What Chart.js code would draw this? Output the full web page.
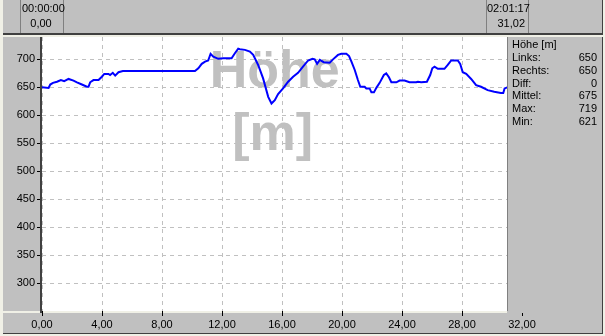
<!DOCTYPE html>
<html><head><meta charset="utf-8">
<script src="https://cdn.jsdelivr.net/npm/chart.js@4/dist/chart.umd.min.js"></script>
<style>html,body{margin:0;padding:0;background:#f0f0e6;}canvas{display:block}</style>
</head><body>
<canvas id="c" width="605" height="336"></canvas>
<script>
const distanceKm = [0,0.44,0.55,0.73,1.0,1.26,1.48,1.77,2.10,2.33,2.66,2.99,3.10,3.21,3.43,3.77,3.99,4.15,4.43,4.54,4.72,4.88,5.10,5.39,10.20,10.42,10.65,10.87,11.08,11.24,11.42,11.75,12.08,12.64,12.86,13.08,13.19,13.53,13.86,14.08,14.41,14.74,15.08,15.30,15.52,15.74,16.07,16.41,16.74,17.07,17.40,17.74,18.03,18.18,18.34,18.52,18.78,19.18,19.40,19.73,19.96,20.29,20.47,20.63,20.85,21.06,21.22,21.51,21.62,21.84,21.96,22.13,22.29,22.51,22.79,22.95,23.13,23.29,23.62,23.84,24.17,24.50,24.95,25.06,25.28,25.66,25.88,26.02,26.17,26.39,26.83,27.05,27.28,27.72,27.88,28.05,28.28,28.61,28.94,29.27,29.71,30.15,30.59,30.75,30.84,31.02];
const elevationM = [650,649,655,658,660,663,661,665,662,659,655,651,651,659,663,663,669,674,674,672,676,671,677,679,679,684,692,696,698,710,705,701,702,702,711,719,718,717,714,708,690,666,633,621,627,638,648,660,669,676,687,698,701,700,692,699,695,694,700,708,710,710,706,696,681,663,651,651,648,648,641,641,649,658,672,675,668,659,659,662,662,659,659,660,659,660,672,684,687,683,683,690,698,698,692,677,674,665,654,651,645,642,640,640,648,650];
const xTickValues = [0,4,8,12,16,20,24,28,32];
const yTickValues = [300,350,400,450,500,550,600,650,700];
const statTitle = 'Höhe [m]';
const statLabels = ['Links:','Rechts:','Diff:','Mittel:','Max:','Min:'];
const statValues = ['650','650','0','675','719','621'];
const startTime = '00:00:00', startDist = '0,00';
const endTime = '02:01:17', endDist = '31,02';
const endKm = 31.02;
const watermark = ['Höhe','[m]'];

const GRAY = '#c0c0c0', DARK = '#404040', MID = '#808080', FONT = 'Liberation Sans, Arial, sans-serif';

const decor = {
  id: 'decor',
  beforeDraw(chart) {
    const ctx = chart.ctx, a = chart.chartArea;
    ctx.save();
    ctx.fillStyle = '#f0f0e6'; ctx.fillRect(0, 0, 605, 336);
    // top bar
    ctx.fillStyle = GRAY; ctx.fillRect(3, 0, 600, 35);
    // left panel
    ctx.fillRect(3, a.top, a.left - 3, a.bottom - a.top);
    // bottom bar
    ctx.fillRect(3, a.bottom + 2, 600, 334 - a.bottom - 2);
    // plot area
    ctx.fillStyle = '#ffffff'; ctx.fillRect(a.left, a.top, a.right - a.left, a.bottom - a.top);
    ctx.restore();
  },
  beforeDatasetsDraw(chart) {
    const ctx = chart.ctx, a = chart.chartArea;
    const xEnd = chart.scales.x.getPixelForValue(endKm);
    const cx = (a.left + xEnd) / 2;
    ctx.save();
    ctx.fillStyle = GRAY;
    ctx.font = 'bold 52px ' + FONT;
    ctx.textAlign = 'center'; ctx.textBaseline = 'alphabetic';
    ctx.fillText(watermark[0], cx, 87);
    ctx.fillText(watermark[1], cx - 2, 150);
    ctx.restore();
  },
  afterDraw(chart) {
    const ctx = chart.ctx, a = chart.chartArea;
    const xEnd = Math.round(chart.scales.x.getPixelForValue(endKm));
    ctx.save();
    // right panel
    ctx.fillStyle = GRAY; ctx.fillRect(xEnd, a.top, 603 - xEnd, a.bottom - a.top + 2);
    ctx.fillStyle = MID; ctx.fillRect(xEnd, a.top, 1, a.bottom - a.top);
    ctx.fillStyle = DARK; ctx.fillRect(602, a.top, 1, a.bottom - a.top + 2);
    // axis line
    ctx.fillStyle = DARK; ctx.fillRect(a.left - 2, a.top, 2, a.bottom - a.top + 2);
    // top bar borders
    ctx.fillStyle = DARK; ctx.fillRect(3, 33, 600, 2);
    ctx.fillStyle = MID;
    [20, 63, 486, 528].forEach(x => ctx.fillRect(x, 0, 1, 33));
    ctx.fillStyle = DARK; ctx.fillRect(602, 0, 1, 35);
    // bottom bar border
    ctx.fillStyle = DARK; ctx.fillRect(3, 333, 600, 1); ctx.fillRect(602, a.bottom, 1, 334 - a.bottom);
    // texts
    ctx.fillStyle = '#000';
    ctx.font = '11px ' + FONT;
    ctx.textBaseline = 'middle';
    ctx.textAlign = 'left';
    ctx.fillText(startTime, 22, 9);
    ctx.textAlign = 'center'; ctx.fillText(startDist, 41, 24);
    ctx.textAlign = 'left'; ctx.fillText(endTime, 487, 9);
    ctx.textAlign = 'right'; ctx.fillText(endDist, 525, 24);
    // stats panel
    ctx.textAlign = 'left';
    ctx.fillText(statTitle, xEnd + 5, 45);
    statLabels.forEach((l, i) => {
      const y = 58 + i * 12.8;
      ctx.textAlign = 'left'; ctx.fillText(l, xEnd + 5, y);
      ctx.textAlign = 'right'; ctx.fillText(statValues[i], 597, y);
    });
    ctx.restore();
  }
};

new Chart(document.getElementById('c'), {
  type: 'line',
  data: {
    datasets: [{
      data: distanceKm.map((d, i) => ({ x: d, y: elevationM[i] })),
      borderColor: '#0000ff', borderWidth: 2, pointRadius: 0, tension: 0, fill: false
    }]
  },
  options: {
    responsive: false, animation: false, devicePixelRatio: 1,
    layout: { padding: { top: 37, right: 83, left: 0, bottom: 0 } },
    plugins: { legend: { display: false }, tooltip: { enabled: false } },
    scales: {
      x: {
        type: 'linear', min: 0, max: 32,
        afterBuildTicks: s => { s.ticks = xTickValues.map(v => ({ value: v })); },
        afterFit: s => { s.height = 25; },
        ticks: { autoSkip: false, maxRotation: 0, padding: 2, color: '#000', font: { family: FONT, size: 11 },
          callback: v => v.toFixed(2).replace('.', ',') },
        grid: { color: GRAY, tickColor: '#000', tickLength: 5, tickBorderDash: [] },
        border: { display: false, dash: [4, 4] }
      },
      y: {
        min: 250, max: 740,
        afterBuildTicks: s => { s.ticks = yTickValues.map(v => ({ value: v })); },
        afterFit: s => { s.width = 42; },
        ticks: { padding: 2, color: '#000', font: { family: FONT, size: 11 }, callback: v => String(v) },
        grid: { color: GRAY, tickColor: '#000', tickLength: 5, tickBorderDash: [] },
        border: { display: false, dash: [4, 4] }
      }
    }
  },
  plugins: [decor]
});
</script>
</body></html>
